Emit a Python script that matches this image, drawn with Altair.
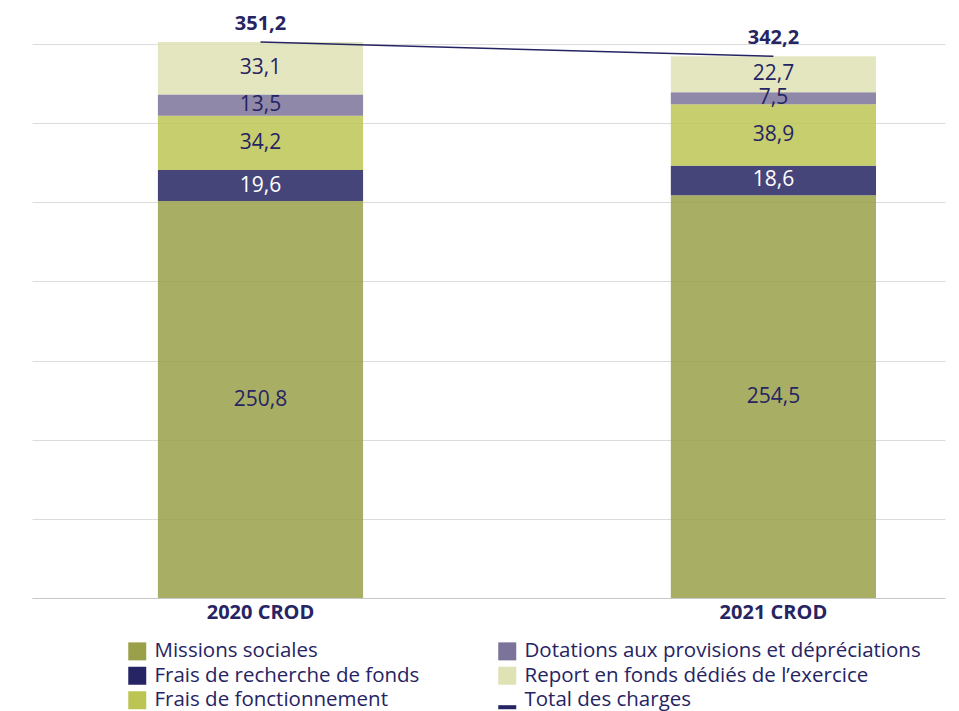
import altair as alt
import pandas as pd

years = ["2020 CROD", "2021 CROD"]
series = ["Missions sociales", "Frais de recherche de fonds", "Frais de fonctionnement",
          "Dotations aux provisions et dépréciations", "Report en fonds dédiés de l’exercice"]
values_2020 = [250.8, 19.6, 34.2, 13.5, 33.1]
values_2021 = [254.5, 18.6, 38.9, 7.5, 22.7]
totals = [351.2, 342.2]
total_name = "Total des charges"

colors = ["#9aa04a", "#262463", "#bcc553", "#7b7399", "#dfe2b5"]
line_color = "#262463"
FONT = "Open Sans"

rows = []
for y, vals in zip(years, [values_2020, values_2021]):
    for i, (s, v) in enumerate(zip(series, vals)):
        rows.append({"year": y, "serie": s, "value": v, "order": i})
df = pd.DataFrame(rows)
tot = pd.DataFrame({"year": years, "total": totals, "serie": [total_name] * 2})

legend_domain = series + [total_name]
legend_range = colors + [line_color]

xenc = alt.X("year:N", sort=years, title=None,
             scale=alt.Scale(paddingInner=0.6, paddingOuter=0.19, align=0.646),
             axis=alt.Axis(labelAngle=0, labelFontSize=20, labelFontWeight="bold",
                           labelColor="#262463", labelPadding=4, ticks=False,
                           domainColor="#c8c8c8", labelFont=FONT))
yscale = alt.Scale(domain=[0, 350], nice=False)

base = alt.Chart(df).transform_stack(
    stack="value", groupby=["year"], sort=[alt.SortField("order")], as_=["y0", "y1"]
).transform_calculate(
    mid="(datum.y0 + datum.y1) / 2",
    label="replace(format(datum.value, '.1f'), '.', ',')"
)

bars = base.mark_bar(opacity=0.85).encode(
    x=xenc,
    y=alt.Y("y0:Q", scale=yscale, title=None,
            axis=alt.Axis(values=[0, 50, 100, 150, 200, 250, 300, 350], labels=False,
                          ticks=False, domain=False, grid=True, gridColor="#dcdcdc")),
    y2="y1:Q",
    color=alt.Color("serie:N", scale=alt.Scale(domain=legend_domain, range=legend_range),
                    title=None),
)

seg_labels = base.mark_text(fontSize=21, font=FONT, baseline="middle").encode(
    x=alt.X("year:N", sort=years),
    y=alt.Y("mid:Q", scale=yscale),
    text="label:N",
    color=alt.condition(alt.datum.serie == "Frais de recherche de fonds",
                        alt.value("white"), alt.value("#262463")),
)

tbase = alt.Chart(tot).transform_calculate(
    label="replace(format(datum.total, '.1f'), '.', ',')"
)
line = tbase.mark_line(color=line_color, strokeWidth=1.5).encode(
    x=alt.X("year:N", sort=years),
    y=alt.Y("total:Q", scale=yscale),
)
tot_labels = tbase.mark_text(fontSize=20, font=FONT, fontWeight="bold",
                             baseline="alphabetic", dy=-12, color="#262463").encode(
    x=alt.X("year:N", sort=years),
    y=alt.Y("total:Q", scale=yscale),
    text="label:N",
)
pts = tbase.mark_point(filled=True, size=0).encode(
    x=alt.X("year:N", sort=years),
    y=alt.Y("total:Q", scale=yscale),
    color=alt.Color("serie:N", scale=alt.Scale(domain=legend_domain, range=legend_range),
                    title=None),
    shape=alt.Shape("serie:N", scale=alt.Scale(domain=legend_domain,
                    range=["square"] * 5 + ["M-1,0.55H1V1H-1Z"]), title=None),
)

chart = alt.layer(bars, seg_labels, line, tot_labels, pts).properties(
    width=913, height=554,
    autosize=alt.AutoSizeParams(type="none"),
    padding={"left": 24, "top": 36, "right": 6, "bottom": 113},
).configure_view(stroke=None).configure_legend(
    orient="none", legendX=95, legendY=597, columns=2, symbolSize=324,
    symbolOpacity=1, labelFontSize=20.5, labelFont=FONT, labelColor="#262463",
    columnPadding=77, rowPadding=3.5, symbolStrokeWidth=0, labelLimit=500,
    labelOffset=7, direction="vertical"
)

chart.save("out.html", embed_options={"renderer": "svg", "actions": False})
